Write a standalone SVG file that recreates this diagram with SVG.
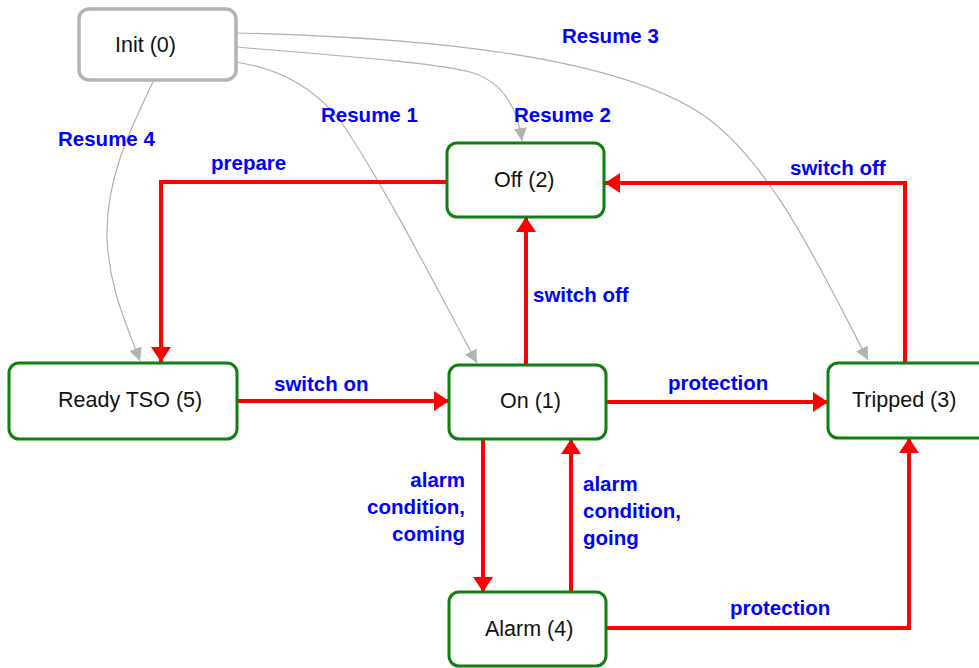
<svg xmlns="http://www.w3.org/2000/svg" width="979" height="668" viewBox="0 0 979 668">
<style>
  .node { fill: #ffffff; stroke: #0f7f0f; stroke-width: 3; }
  .init { fill: #ffffff; stroke: #b3b3b3; stroke-width: 3.5; }
  .ntxt { font-family: "Liberation Sans", Arial, sans-serif; font-size: 21.5px; fill: #111111; }
  .lbl { font-family: "Liberation Sans", Arial, sans-serif; font-size: 20.5px; font-weight: bold; fill: #0000ff; }
  .red { fill: none; stroke: #ff0000; stroke-width: 4; marker-end: url(#ah-red); }
  .gray { fill: none; stroke: #b0b0b0; stroke-width: 1.2; marker-end: url(#ah-gray); }
</style>
<defs>
  <marker id="ah-red" viewBox="0 0 15 20" refX="15" refY="10" markerWidth="15" markerHeight="20" markerUnits="userSpaceOnUse" orient="auto">
    <path d="M0,0 L15,10 L0,20 z" fill="#ff0000"/>
  </marker>
  <marker id="ah-gray" viewBox="0 0 13 13" refX="13" refY="6.5" markerWidth="13" markerHeight="13" markerUnits="userSpaceOnUse" orient="auto">
    <path d="M0,0 L13,6.5 L0,13 z" fill="#b3b3b3"/>
  </marker>
</defs>
<rect width="979" height="668" fill="#ffffff"/>
<g id="connectors">
  <path class="gray" d="M236,33 C450,38 630,60 710,120 C775,170 822,272 868,360"/>
  <path class="gray" d="M236,47 C330,55 430,62 470,72 C505,82 518,110 522,141"/>
  <path class="gray" d="M236,62 C285,70 315,90 340,120 C390,195 440,295 477,363"/>
  <path class="gray" d="M153,82 C130,130 105,180 107,240 C110,290 125,320 140,361"/>
  <path class="red" d="M447,182 H161 V362"/>
  <path class="red" d="M905,363 V183 H605"/>
  <path class="red" d="M526,365 V217"/>
  <path class="red" d="M237,401 H449"/>
  <path class="red" d="M606,402 H828"/>
  <path class="red" d="M483,439 V592"/>
  <path class="red" d="M571,592 V439"/>
  <path class="red" d="M606,628 H909 V438"/>
  <text class="lbl" x="562" y="43">Resume 3</text>
  <text class="lbl" x="514" y="122">Resume 2</text>
  <text class="lbl" x="321" y="122">Resume 1</text>
  <text class="lbl" x="58" y="146">Resume 4</text>
  <text class="lbl" x="211" y="170">prepare</text>
  <text class="lbl" x="790" y="175">switch off</text>
  <text class="lbl" x="533" y="302">switch off</text>
  <text class="lbl" x="274" y="391">switch on</text>
  <text class="lbl" x="668" y="390">protection</text>
  <text class="lbl" x="730" y="615">protection</text>
  <text class="lbl" text-anchor="end"><tspan x="465" y="487">alarm</tspan><tspan x="465" y="514">condition,</tspan><tspan x="465" y="541">coming</tspan></text>
  <text class="lbl"><tspan x="583" y="491">alarm</tspan><tspan x="583" y="518">condition,</tspan><tspan x="583" y="545">going</tspan></text>
</g>
<g id="node-init">
  <rect class="init" x="79" y="9" width="157" height="71" rx="10"/>
  <text class="ntxt" x="115" y="52">Init (0)</text>
</g>
<g id="node-off">
  <rect class="node" x="447" y="143" width="157" height="74" rx="10"/>
  <text class="ntxt" x="494" y="187">Off (2)</text>
</g>
<g id="node-ready">
  <rect class="node" x="9" y="363" width="228" height="76" rx="10"/>
  <text class="ntxt" x="58" y="407">Ready TSO (5)</text>
</g>
<g id="node-on">
  <rect class="node" x="449" y="365" width="157" height="74" rx="10"/>
  <text class="ntxt" x="500" y="408">On (1)</text>
</g>
<g id="node-tripped">
  <rect class="node" x="828" y="363" width="160" height="75" rx="10"/>
  <text class="ntxt" x="852" y="407">Tripped (3)</text>
</g>
<g id="node-alarm">
  <rect class="node" x="449" y="592" width="157" height="74" rx="10"/>
  <text class="ntxt" x="485" y="636">Alarm (4)</text>
</g>
</svg>
